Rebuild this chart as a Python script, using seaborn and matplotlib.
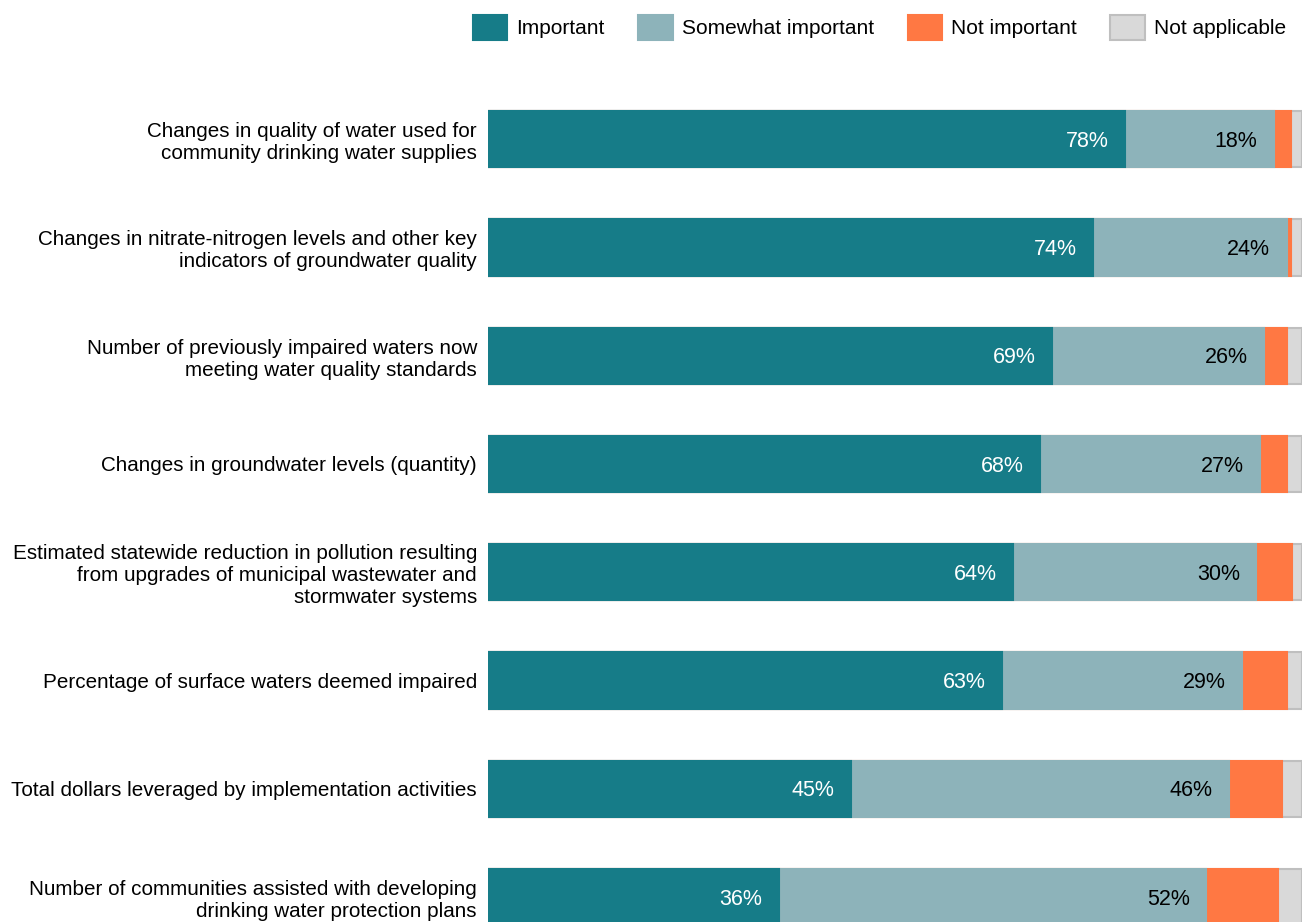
import matplotlib
matplotlib.use("Agg")
import matplotlib.pyplot as plt
from matplotlib.patches import Patch
import pandas as pd
import seaborn as sns

# survey items (top to bottom) and shares in percent
items = [
    "Changes in quality of water used for\ncommunity drinking water supplies",
    "Changes in nitrate-nitrogen levels and other key\nindicators of groundwater quality",
    "Number of previously impaired waters now\nmeeting water quality standards",
    "Changes in groundwater levels (quantity)",
    "Estimated statewide reduction in pollution resulting\nfrom upgrades of municipal wastewater and\nstormwater systems",
    "Percentage of surface waters deemed impaired",
    "Total dollars leveraged by implementation activities",
    "Number of communities assisted with developing\ndrinking water protection plans",
]
important = [78.2, 74.3, 69.3, 67.8, 64.5, 63.1, 44.6, 35.7]
somewhat = [18.3, 23.8, 26.0, 27.0, 29.9, 29.5, 46.4, 52.5]
not_important = [2.1, 0.5, 2.8, 3.3, 4.4, 5.5, 6.6, 8.8]
not_applicable = [1.4, 1.4, 1.9, 1.9, 1.2, 1.9, 2.4, 3.0]
imp_labels = ["78%", "74%", "69%", "68%", "64%", "63%", "45%", "36%"]
sw_labels = ["18%", "24%", "26%", "27%", "30%", "29%", "46%", "52%"]

series = ["Important", "Somewhat important", "Not important", "Not applicable"]
colors = ["#167C88", "#8DB3BA", "#FF7843", "#D9D9D9"]
edges = ["#167C88", "#8DB3BA", "#FF7843", "#BFBFBF"]

df = pd.DataFrame({"item": items, "Important": important,
                   "Somewhat important": somewhat,
                   "Not important": not_important,
                   "Not applicable": not_applicable})
cum = df[series].cumsum(axis=1)

sns.set_style("white")
plt.rcParams["font.family"] = ["Liberation Sans", "DejaVu Sans"]
plt.rcParams["text.color"] = "black"
plt.rcParams["ytick.color"] = "black"

fig = plt.figure(figsize=(13.03, 9.22), dpi=100)
ax = fig.add_axes([488 / 1303, 0, 814 / 1303, 837 / 922])

# draw the stacked segments from the outermost cumulative value inwards
for s, c, e in reversed(list(zip(series, colors, edges))):
    sns.barplot(x=cum[s], y=df["item"], orient="h", color=c, saturation=1,
                width=0.52, edgecolor=e, linewidth=1.5, ax=ax)

for i in range(len(items)):
    ax.text(cum.loc[i, "Important"] - 2, i + 0.02, imp_labels[i], ha="right", va="center",
            color="white", fontsize=15.5)
    ax.text(cum.loc[i, "Somewhat important"] - 2, i + 0.02, sw_labels[i], ha="right",
            va="center", color="black", fontsize=15.5)

ax.set_xlim(0, 100)
ax.set_ylim(7.23, -0.5)
ax.set_xlabel("")
ax.set_ylabel("")
ax.set_xticks([])
ax.tick_params(axis="y", length=0, pad=8, labelsize=14.9)
for lab in ax.get_yticklabels():
    lab.set_linespacing(1.2)
sns.despine(ax=ax, left=True, bottom=True)

handles = [Patch(facecolor=c, edgecolor=e, linewidth=1.5) for c, e in zip(colors, edges)]
fig.legend(handles, series, loc="upper right", bbox_to_anchor=(1305 / 1303, 1.004),
           ncol=4, frameon=False, fontsize=15, handlelength=1.65, handleheight=1.45,
           handletextpad=0.45, columnspacing=1.6)

fig.savefig("out.png", dpi=100)
